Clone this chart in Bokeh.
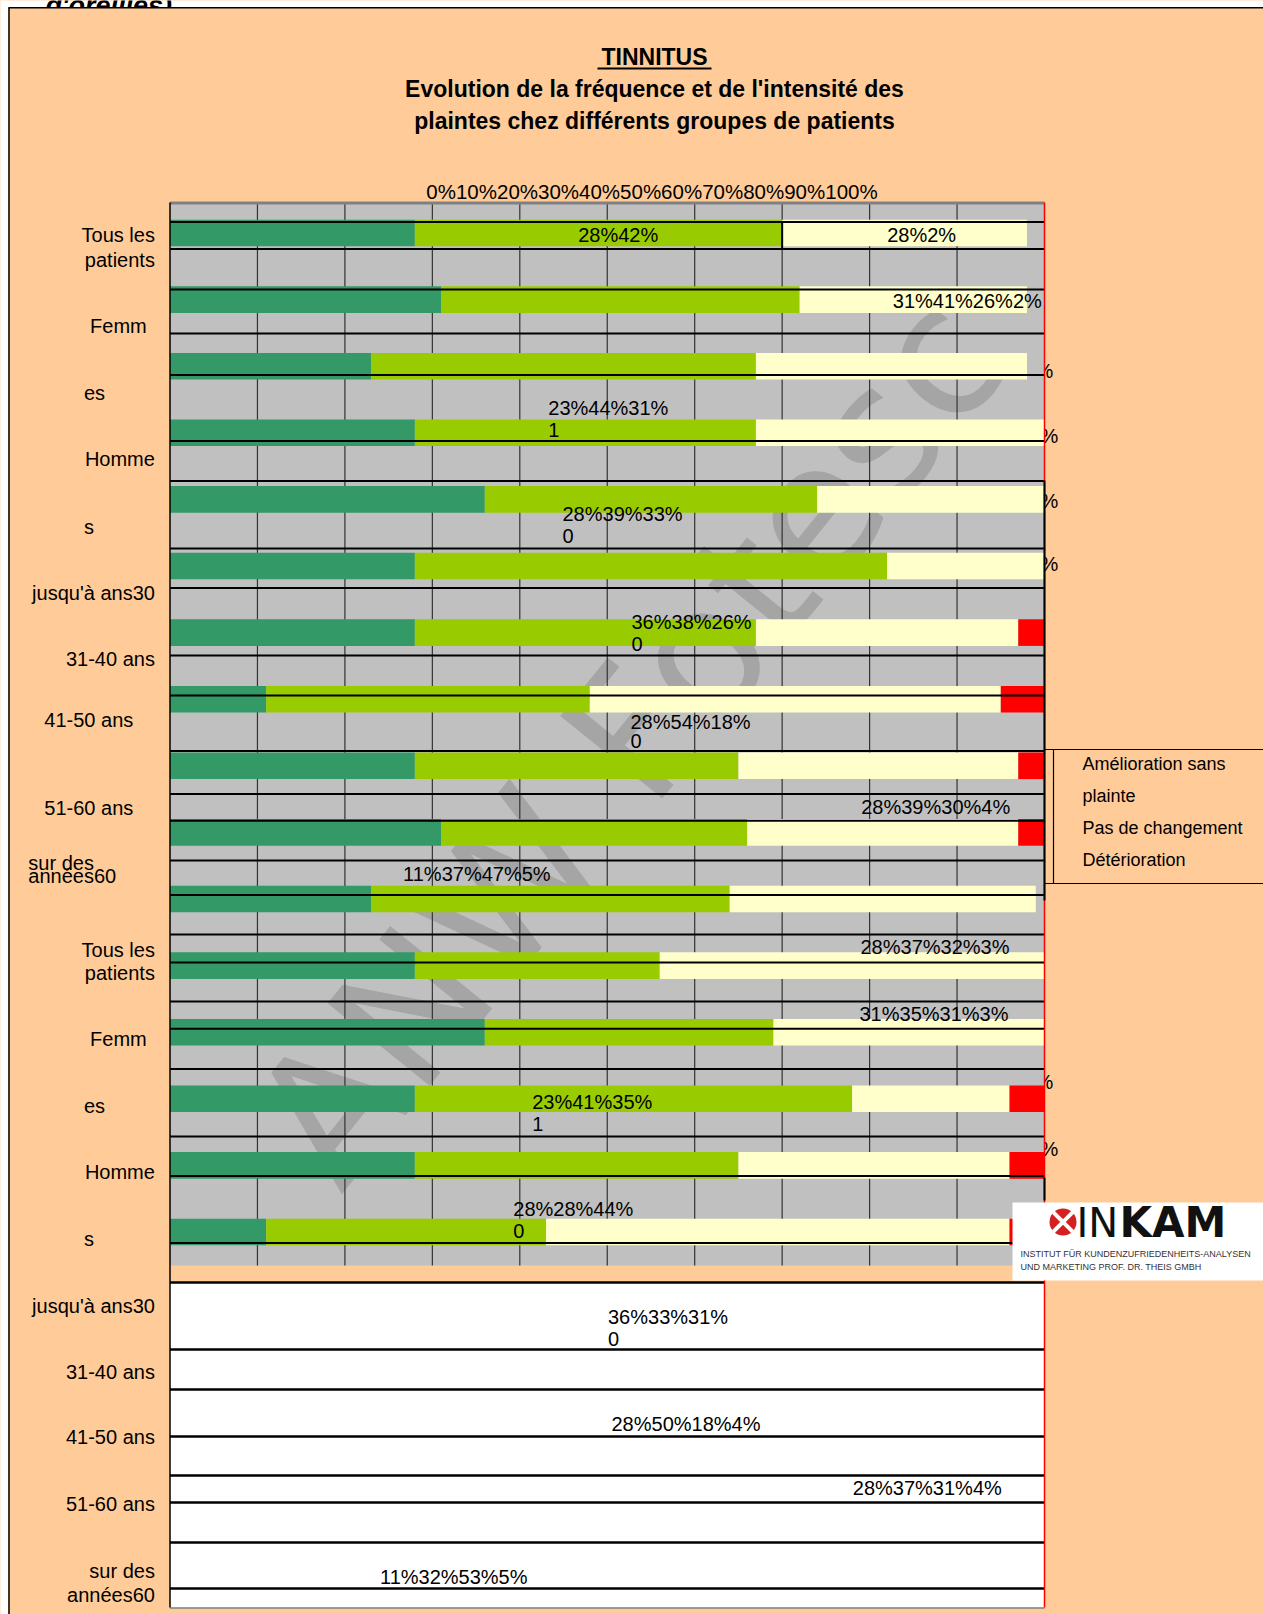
import numpy as np
from bokeh.plotting import figure
from bokeh.models import Range1d
from bokeh.embed import file_html
from bokeh.resources import INLINE
from bokeh.core.properties import value

# ---------------- DATA ----------------
title_main = "TINNITUS"
title_lines = ["Evolution de la fréquence et de l'intensité des",
               "plaintes chez différents groupes de patients"]
axis_text = "0%10%20%30%40%50%60%70%80%90%100%"
legend_items = ["Amélioration sans", "plainte", "Pas de changement", "Détérioration"]

rows = list(range(16))
sans_plainte = [28, 31, 23, 28, 36, 28, 28, 11, 28, 31, 23, 28, 36, 28, 28, 11]
amelioration = [42, 41, 44, 39, 38, 54, 39, 37, 37, 35, 41, 28, 33, 50, 37, 32]
pas_de_changement = [28, 26, 31, 33, 26, 18, 30, 47, 32, 31, 35, 44, 31, 18, 31, 53]
deterioration_visible = [0, 0, 0, 0, 0, 0, 4, 5, 3, 3, 0, 0, 0, 4, 4, 5]

group_labels = ["Tous les", "patients", "Femm", "es", "Homme", "s", "jusqu'à ans30",
                "31-40 ans", "41-50 ans", "51-60 ans", "sur des", "années60",
                "Tous les", "patients", "Femm", "es", "Homme", "s", "jusqu'à ans30",
                "31-40 ans", "41-50 ans", "51-60 ans", "sur des", "années60"]

value_labels = ["28%42%", "28%2%", "31%41%26%2%", "23%44%31%", "1", "28%39%33%", "0",
                "36%38%26%", "0", "28%54%18%", "0", "28%39%30%4%", "11%37%47%5%",
                "28%37%32%3%", "31%35%31%3%", "23%41%35%", "1", "28%28%44%", "0",
                "36%33%31%", "0", "28%50%18%4%", "28%37%31%4%", "11%32%53%5%"]

# ---------------- LAYOUT (page pixels) ----------------
FIG_W, FIG_H = 1263, 1614
PLOT_L, PLOT_R = 169.5, 1044.0
ROW0, PITCH = 232.5, 66.6
PPP = (PLOT_R - PLOT_L) / 100.0


def X(px):
    return (px - PLOT_L) / PPP


def Y(py):
    return (py - ROW0) / PITCH


def XS(lst):
    return [X(v) for v in lst]


def YS(lst):
    return [Y(v) for v in lst]


p = figure(width=FIG_W, height=FIG_H,
           x_range=Range1d(X(0), X(FIG_W)),
           y_range=Range1d(Y(FIG_H), Y(0)),
           output_backend="svg", toolbar_location=None,
           x_axis_location=None, y_axis_location=None,
           min_border=0, background_fill_color="#FFCC99",
           border_fill_color="#FFCC99", outline_line_color=None)
p.grid.visible = False

FONT = value("Liberation Sans")
GRAY_TOP, GRAY_BOT = 202, 1265

# white page strips (top and left) and the cut-off heading above the box
p.quad(left=X(0), right=X(FIG_W), top=Y(0), bottom=Y(7.5), fill_color="white", line_color=None)
p.quad(left=X(0), right=X(7.8), top=Y(0), bottom=Y(FIG_H), fill_color="white", line_color=None)
p.text(x=[X(45)], y=[Y(5)], text=["d'oreilles)"], text_font=FONT, text_font_style="bold italic",
       text_font_size="27px", text_align="left", text_baseline="alphabetic", text_color="black")
p.quad(left=X(7.8), right=X(FIG_W), top=Y(7.5), bottom=Y(FIG_H), fill_color="#FFCC99", line_color=None)

# hidden label tails (partially covered by the plot area)
tail_x = [1035, 1040, 1040, 1040, 1035, 1040]
tail_y = [370, 435, 500, 563, 1081.7, 1148]
p.text(x=XS(tail_x), y=YS(tail_y), text=["%"] * 6, text_font=FONT,
       text_font_size="20px", text_align="left", text_baseline="middle",
       text_color="black")

# gray plot area
p.quad(left=0, right=100, top=Y(GRAY_TOP), bottom=Y(GRAY_BOT),
       fill_color="#C0C0C0", line_color=None)

# watermark
p.text(x=[X(630)], y=[Y(738)], text=["ANW Fotesc"], angle=51, angle_units="deg",
       text_font=value("DejaVu Sans"), text_font_size="180px",
       text_align="center", text_baseline="middle", text_color="#A5A5A5")

# vertical grid lines
ticks = [10, 20, 30, 40, 50, 60, 70, 80, 90]
p.segment(x0=ticks, x1=ticks, y0=Y(GRAY_TOP), y1=Y(GRAY_BOT),
          line_color="#333333", line_width=1.2)

# stacked bars
a = np.array(sans_plainte, dtype=float)
b = a + np.array(amelioration)
c = b + np.array(pas_de_changement)
d = np.minimum(c + np.array(deterioration_visible), 100)
H = 0.40
p.hbar(y=rows, left=0, right=a, height=H, fill_color="#339966", line_color=None)
p.hbar(y=rows, left=a, right=b, height=H, fill_color="#99CC00", line_color=None)
p.hbar(y=rows, left=b, right=np.minimum(c, 100), height=H, fill_color="#FFFFCC", line_color=None)
p.hbar(y=rows, left=np.minimum(c, 100), right=d, height=H, fill_color="#FF0000", line_color=None)

# small boundary mark on the first bar
p.segment(x0=[b[0]], x1=[b[0]], y0=[Y(221.5)], y1=[Y(248.5)], line_color="black", line_width=2)

# horizontal black lines across the plot
hlines = [221.5, 248.5, 289, 333, 374.5, 440.5, 480.5, 548, 587.5, 655, 695, 750.5,
          793.5, 820.3, 860, 894.5, 934, 962, 1001, 1028.3, 1068.5, 1136, 1175.5, 1242.5]
p.segment(x0=0, x1=100, y0=YS(hlines), y1=YS(hlines), line_color="black", line_width=2)

# white lower area
WB_TOP, WB_BOT = 1282, 1607
p.quad(left=0, right=100, top=Y(WB_TOP), bottom=Y(WB_BOT), fill_color="white", line_color=None)
wlines = [1282, 1349, 1389, 1436, 1475, 1502, 1542, 1588]
p.segment(x0=0, x1=100, y0=YS(wlines), y1=YS(wlines), line_color="black", line_width=2.5)
p.segment(x0=[0], x1=[100], y0=[Y(1607.5)], y1=[Y(1607.5)], line_color="#808080", line_width=1.5)

# plot borders
p.segment(x0=[0], x1=[100], y0=[Y(202.5)], y1=[Y(202.5)], line_color="#808080", line_width=3)
p.segment(x0=[0], x1=[0], y0=[Y(202)], y1=[Y(1607)], line_color="black", line_width=1.5)
p.segment(x0=[100], x1=[100], y0=[Y(202)], y1=[Y(1607)], line_color="#FF0000", line_width=1.5)
p.segment(x0=[100, 100], x1=[100, 100], y0=[Y(480), Y(1177)], y1=[Y(900), Y(1200)],
          line_color="black", line_width=2)

# outer frame of the peach box
p.segment(x0=[X(8.5)], x1=[X(8.5)], y0=[Y(7)], y1=[Y(FIG_H)], line_color="black", line_width=1.5)
p.segment(x0=[X(8)], x1=[X(FIG_W)], y0=[Y(7.2)], y1=[Y(7.2)], line_color="black", line_width=1.5)

# legend box
p.segment(x0=[100, 100], x1=[X(FIG_W), X(FIG_W)], y0=[Y(749), Y(883)], y1=[Y(749), Y(883)],
          line_color="black", line_width=1.2)
p.segment(x0=[X(1053)], x1=[X(1053)], y0=[Y(749)], y1=[Y(883)], line_color="black", line_width=1.2)
p.text(x=[X(1082)] * 4, y=YS([763, 795, 827, 859]), text=legend_items, text_font=FONT,
       text_font_size="18px", text_align="left", text_baseline="middle", text_color="black")

# titles
p.text(x=[X(654)], y=[Y(56)], text=[title_main], text_font=FONT, text_font_style="bold",
       text_font_size="23px", text_align="center", text_baseline="middle", text_color="black")
p.segment(x0=[X(597)], x1=[X(711)], y0=[Y(68)], y1=[Y(68)], line_color="black", line_width=2)
p.text(x=[X(654)] * 2, y=YS([88.3, 120]), text=title_lines, text_font=FONT,
       text_font_style="bold", text_font_size="23px", text_align="center",
       text_baseline="middle", text_color="black")
p.text(x=[X(651.5)], y=[Y(191)], text=[axis_text], text_font=FONT, text_font_size="20.5px",
       text_align="center", text_baseline="middle", text_color="black")

# group labels (left column)
gl_x = [154.4, 154.4, 89.6, 83.4, 154.4, 83.4, 154.4, 154.4, 132.8, 132.8, 27.8, 27.8,
        154.4, 154.4, 89.6, 83.4, 154.4, 83.4, 154.4, 154.4, 154.4, 154.4, 154.4, 154.4]
gl_y = [234.7, 259.4, 325.3, 392.2, 458.1, 526, 592.9, 658.8, 719.5, 807, 862.6, 875,
        949, 972.7, 1038.6, 1105.5, 1171.4, 1238.3, 1305.2, 1371, 1436.9, 1503.9, 1570.8, 1594.4]
gl_al = ["right", "right", "left", "left", "right", "left", "right", "right", "right", "right",
         "left", "left", "right", "right", "left", "left", "right", "left", "right", "right",
         "right", "right", "right", "right"]
for al in ("left", "right"):
    idx = [i for i, v in enumerate(gl_al) if v == al]
    p.text(x=[X(gl_x[i]) for i in idx], y=[Y(gl_y[i]) for i in idx],
           text=[group_labels[i] for i in idx], text_font=FONT, text_font_size="20px",
           text_align=al, text_baseline="middle", text_color="black")

# value labels
vl_x = [577.7, 886.7, 892.3, 547.8, 547.8, 562, 562, 631, 631, 630, 630, 860.7, 402.6,
        860, 859, 531.7, 531.7, 512.8, 512.8, 607.5, 607.5, 611, 852.3, 379.5]
vl_y = [234, 234, 300, 407, 429, 513.5, 535, 621.3, 643.4, 721, 740, 806, 873.8,
        946.8, 1013, 1101.5, 1123, 1208.7, 1230, 1316.7, 1338.3, 1423.3, 1487.7, 1576]
p.text(x=XS(vl_x), y=YS(vl_y), text=value_labels, text_font=FONT, text_font_size="20px",
       text_align="left", text_baseline="middle", text_color="black")

# logo
p.quad(left=X(1012), right=X(FIG_W), top=Y(1202), bottom=Y(1280), fill_color="white", line_color=None)
p.scatter(x=[X(1062.5)], y=[Y(1221.5)], marker="circle", size=27, fill_color="#D42020", line_color=None)
p.scatter(x=[X(1062.5)], y=[Y(1221.5)], marker="x", size=30, line_color="white", line_width=4)
p.text(x=[X(1076)], y=[Y(1222)], text=["IN"], text_font=value("DejaVu Sans"),
       text_font_size="40px", text_align="left", text_baseline="middle", text_color="#111111")
p.text(x=[X(1119)], y=[Y(1222)], text=["KAM"], text_font=value("DejaVu Sans"), text_font_style="bold",
       text_font_size="42px", text_align="left", text_baseline="middle", text_color="#111111")
p.text(x=[X(1020)] * 2, y=YS([1253, 1266]),
       text=["INSTITUT FÜR KUNDENZUFRIEDENHEITS-ANALYSEN", "UND MARKETING PROF. DR. THEIS GMBH"],
       text_font=FONT, text_font_size="9px", text_align="left", text_baseline="middle",
       text_color="#333333")

open("out.html", "w").write(file_html(p, INLINE))
